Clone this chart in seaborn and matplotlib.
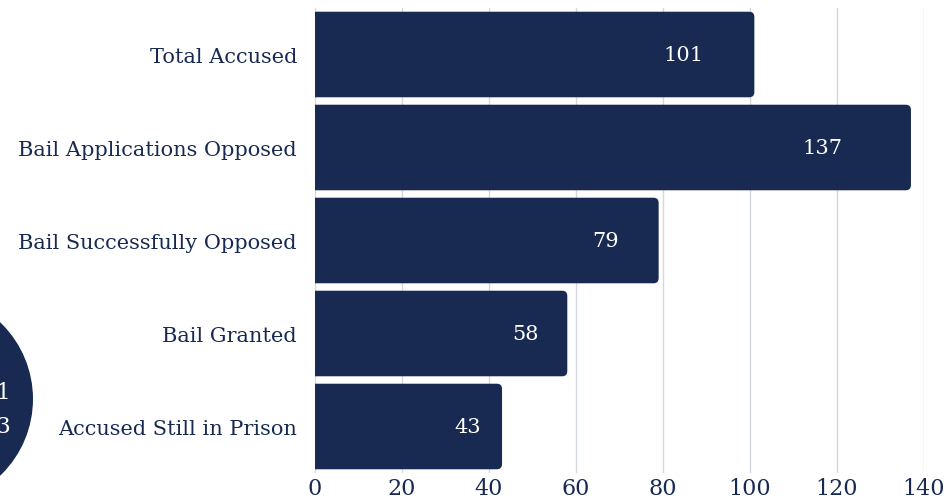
import numpy as np
import pandas as pd
import seaborn as sns
import matplotlib.pyplot as plt
from matplotlib.patches import FancyBboxPatch, Circle

# chart data
categories = ["Total Accused", "Bail Applications Opposed", "Bail Successfully Opposed",
              "Bail Granted", "Accused Still in Prison"]
values = [101, 137, 79, 58, 43]
x_ticks = [0, 20, 40, 60, 80, 100, 120, 140]

navy = "#182a51"
grid_color = "#d3d7e0"

sns.set_theme(style="white")
plt.rcParams['font.family'] = ['DejaVu Serif', 'DejaVu Sans']

df = pd.DataFrame({"category": categories, "value": values})

fig = plt.figure(figsize=(9.5, 5.02), dpi=100)
ax = fig.add_axes([315 / 950, 1 - 474 / 502, (924 - 315) / 950, (474 - 9) / 502])

sns.barplot(data=df, x="value", y="category", color=navy, width=0.92,
            saturation=1, ax=ax, zorder=3)

ax.set_xlim(0, 140)
ax.set_ylim(len(categories) - 0.5, -0.5)

# swap plain bars for ones with rounded right corners
px_x = (924 - 315) / 140
px_y = (474 - 9) / len(categories)
for p in list(ax.patches):
    x0, y0 = p.get_x(), p.get_y()
    w, h = p.get_width(), p.get_height()
    p.set_visible(False)
    fb = FancyBboxPatch((x0 - 3, y0), w + 3, h,
                        boxstyle="round,pad=0,rounding_size=1.2",
                        mutation_aspect=px_x / px_y,
                        facecolor=navy, edgecolor="none", zorder=3)
    ax.add_patch(fb)

for i, v in enumerate(values):
    ax.text(v * 0.885, i, str(v), ha="right", va="center", color="white",
            fontsize=15, zorder=4)

ax.set_xticks(x_ticks)
ax.set_xticklabels([str(t) for t in x_ticks], fontsize=16, color=navy)
ax.tick_params(axis="x", length=0, pad=3)
ax.tick_params(axis="y", length=0, pad=13, labelsize=15, labelcolor=navy)
ax.set_xlabel("")
ax.set_ylabel("")
for s in ax.spines.values():
    s.set_visible(False)
ax.xaxis.grid(True, color=grid_color, linewidth=1, zorder=0)
ax.set_axisbelow(True)

# partly hidden badge at the left edge (inches from bottom-left)
circ = Circle((-0.73, (502 - 400) / 100), 1.06, transform=fig.dpi_scale_trans,
              facecolor=navy, edgecolor="none", zorder=1)
fig.patches.append(circ)
fig.text(11 / 950, 1 - 393 / 502, "2021", ha="right", va="center",
         color="white", fontsize=16)
fig.text(11 / 950, 1 - 427 / 502, "2023", ha="right", va="center",
         color="white", fontsize=16)

fig.savefig("out.png", dpi=100)
